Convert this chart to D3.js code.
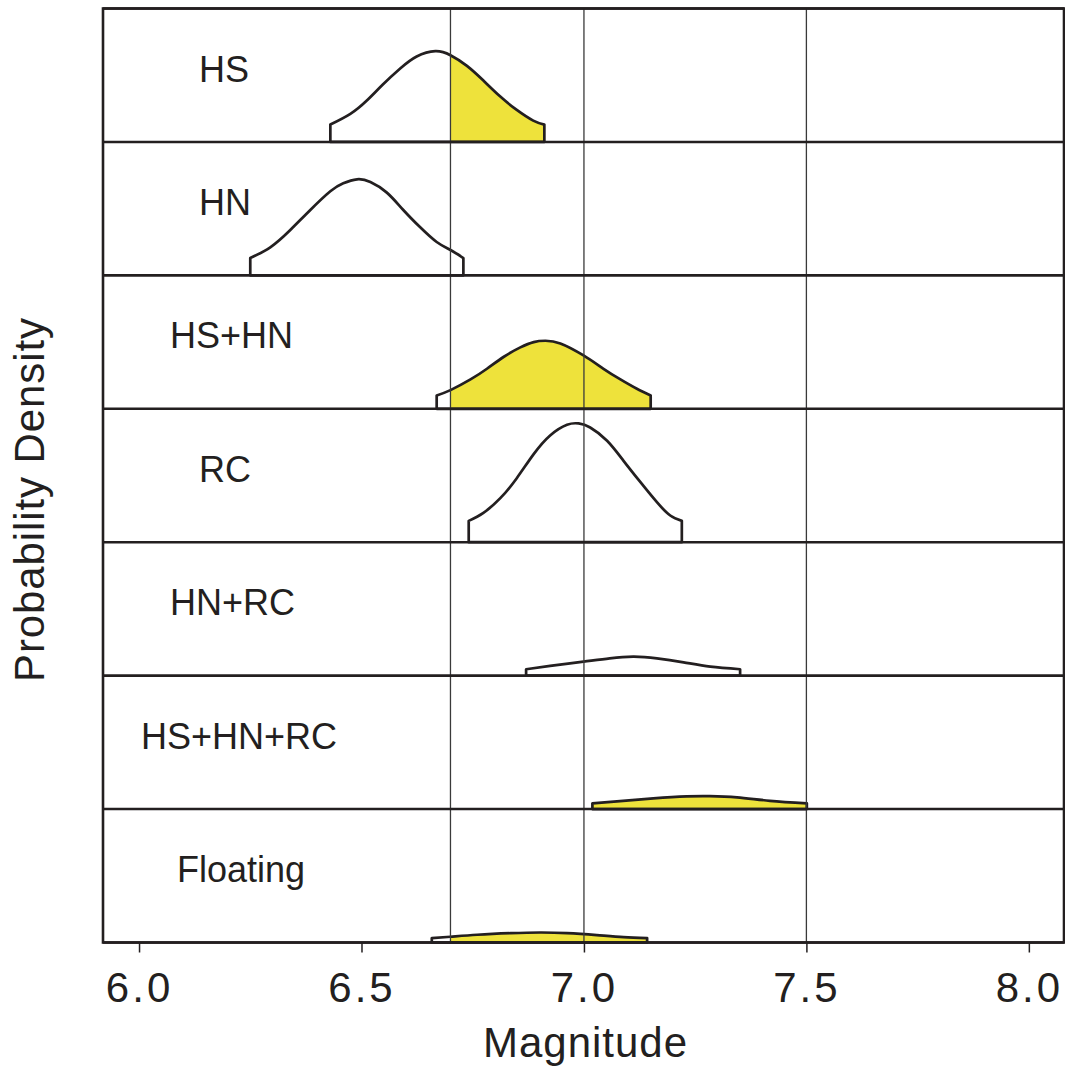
<!DOCTYPE html>
<html lang="en">
<head>
<meta charset="utf-8">
<title>Magnitude probability density</title>
<script src="https://d3js.org/d3.v7.min.js"></script>
<style>
  body { margin: 0; background: #fff; }
  svg text { font-family: "Liberation Sans", Arial, Helvetica, sans-serif; fill: #231f20; }
</style>
</head>
<body>
<div id="chart"></div>
<script>
// rupture models, top to bottom
const models = ["HS", "HN", "HS+HN", "RC", "HN+RC", "HS+HN+RC", "Floating"];
// which panels have the part above M 6.7 shaded
const shaded = [true, false, true, false, false, true, true];
const shadeFrom = 6.7;

const magTicks = [6.0, 6.5, 7.0, 7.5, 8.0];
const refLines = [6.7, 7.0, 7.5];

// [magnitude, relative density]
const hsCurve = [[6.430,0.13],[6.475,0.21],[6.512,0.31],[6.548,0.43],[6.587,0.55],[6.624,0.64],[6.666,0.68],
  [6.700,0.65],[6.737,0.57],[6.774,0.46],[6.812,0.34],[6.849,0.24],[6.886,0.16],[6.911,0.13]];
const hnCurve = [[6.250,0.13],[6.295,0.21],[6.340,0.34],[6.385,0.49],[6.430,0.63],[6.459,0.69],[6.490,0.72],
  [6.520,0.70],[6.557,0.62],[6.594,0.49],[6.632,0.36],[6.669,0.25],[6.700,0.19],[6.729,0.13]];
const hshnCurve = [[6.669,0.10],[6.700,0.14],[6.745,0.22],[6.782,0.30],[6.820,0.39],[6.857,0.46],[6.887,0.50],
  [6.913,0.51],[6.947,0.49],[6.999,0.40],[7.044,0.30],[7.082,0.22],[7.119,0.15],[7.150,0.10]];
const rcCurve = [[6.741,0.16],[6.774,0.22],[6.812,0.33],[6.849,0.48],[6.887,0.66],[6.924,0.80],[6.962,0.88],
  [6.988,0.89],[7.014,0.86],[7.052,0.76],[7.089,0.61],[7.127,0.45],[7.164,0.30],[7.194,0.20],[7.220,0.16]];
const hnrcCurve = [[6.870,0.048],[6.924,0.073],[6.999,0.105],[7.058,0.130],[7.111,0.142],[7.164,0.130],
  [7.224,0.100],[7.284,0.067],[7.351,0.048]];
const hshnrcCurve = [[7.019,0.043],[7.081,0.060],[7.156,0.080],[7.231,0.095],[7.283,0.097],[7.344,0.088],
  [7.418,0.062],[7.501,0.043]];
const floatCurve = [[6.658,0.033],[6.700,0.043],[6.760,0.058],[6.835,0.070],[6.902,0.075],[6.962,0.070],
  [7.029,0.055],[7.089,0.040],[7.142,0.033]];
const curves = [hsCurve, hnCurve, hshnCurve, rcCurve, hnrcCurve, hshnrcCurve, floatCurve];

// label placement inside each panel (px from plot left edge)
const labelX = [96, 96, 67, 96, 67, 38, 74];

const width = 1065, height = 1070;
const plotL = 103, plotR = 1064, plotT = 8.5, plotB = 942.5;
const ink = "#231f20", yellow = "#eee23b";

const svg = d3.select("#chart").append("svg")
    .attr("width", width)
    .attr("height", height);

const x = d3.scaleLinear().domain([5.919, 8.079]).range([plotL, plotR]);
const band = d3.scaleBand().domain(models).range([plotT, plotB]);

svg.append("clipPath").attr("id", "shadeClip")
  .append("rect")
    .attr("x", x(shadeFrom)).attr("y", plotT)
    .attr("width", plotR - x(shadeFrom)).attr("height", plotB - plotT);

models.forEach(function(m, i) {
  const y0 = band(m), y1 = band(m) + band.bandwidth();
  const y = d3.scaleLinear().domain([0, 1]).range([y1, y0]);
  const area = d3.area()
      .x(d => x(d[0]))
      .y0(y1)
      .y1(d => y(d[1]))
      .curve(d3.curveNatural);

  const g = svg.append("g").attr("class", "panel");
  if (shaded[i]) {
    g.append("path")
        .datum(curves[i])
        .attr("d", area)
        .attr("fill", yellow)
        .attr("clip-path", "url(#shadeClip)");
  }
  g.append("path")
      .datum(curves[i])
      .attr("d", area)
      .attr("fill", "none")
      .attr("stroke", ink)
      .attr("stroke-width", 2.7)
      .attr("stroke-linejoin", "round");

  g.append("text")
      .attr("x", plotL + labelX[i])
      .attr("y", y0 + 73)
      .attr("font-size", 36)
      .text(m);
});

// reference magnitudes
svg.selectAll("line.ref")
  .data(refLines)
  .join("line")
    .attr("class", "ref")
    .attr("x1", d => x(d)).attr("x2", d => x(d))
    .attr("y1", plotT).attr("y2", plotB)
    .attr("stroke", "#3a3a3a")
    .attr("stroke-width", 1.3);

// panel separators
const edges = models.map(m => band(m)).concat([plotB]);
svg.selectAll("line.sep")
  .data(edges)
  .join("line")
    .attr("class", "sep")
    .attr("x1", plotL).attr("x2", plotR)
    .attr("y1", d => d).attr("y2", d => d)
    .attr("stroke", ink)
    .attr("stroke-width", 2.6);

svg.append("rect")
    .attr("x", plotL).attr("y", plotT)
    .attr("width", plotR - plotL).attr("height", plotB - plotT)
    .attr("fill", "none")
    .attr("stroke", ink)
    .attr("stroke-width", 2.6);

// x axis
const xAxis = d3.axisBottom(x)
    .tickValues(magTicks)
    .tickFormat(d3.format(".1f"))
    .tickSize(10)
    .tickPadding(20);

const ax = svg.append("g")
    .attr("transform", `translate(0,${plotB})`)
    .call(xAxis);
ax.select(".domain").remove();
ax.selectAll(".tick line").attr("stroke", ink).attr("stroke-width", 1.5);
ax.selectAll(".tick text")
    .attr("font-size", 42)
    .attr("font-family", "'Liberation Sans', Arial, sans-serif")
    .attr("letter-spacing", 3)
    .attr("fill", ink)
    .attr("dy", "0.71em");

svg.append("text")
    .attr("x", (plotL + plotR) / 2 + 2)
    .attr("y", 1057)
    .attr("text-anchor", "middle")
    .attr("font-size", 42)
    .attr("letter-spacing", 1)
    .text("Magnitude");

svg.append("text")
    .attr("transform", "translate(44,500) rotate(-90)")
    .attr("text-anchor", "middle")
    .attr("font-size", 42)
    .attr("textLength", 364)
    .attr("lengthAdjust", "spacing")
    .text("Probability Density");
</script>
</body>
</html>
